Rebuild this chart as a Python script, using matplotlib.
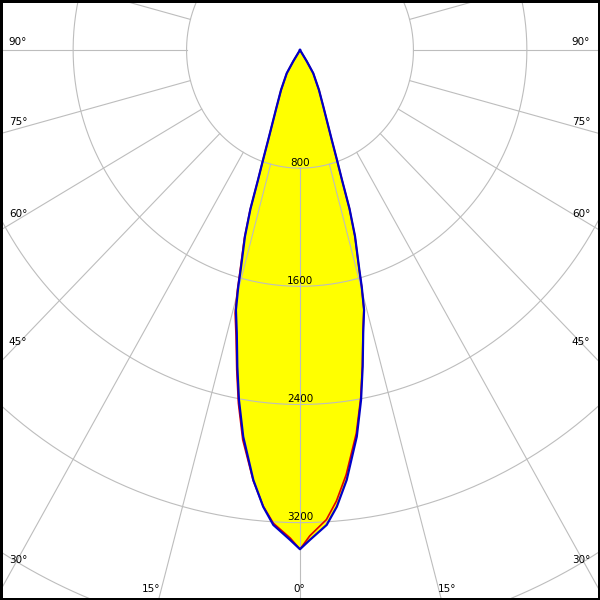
import numpy as np
import matplotlib
matplotlib.use("Agg")
import matplotlib.pyplot as plt
from matplotlib.patches import Rectangle

# luminous intensity (cd) against angle from nadir (deg)
angles = [0, 1.2, 3.35, 4.8, 6.45, 8.7, 10.3, 11.65, 13.1, 14.4, 15.2, 15.7,
          17.1, 18.0, 18.6, 19.3, 20.2, 23.2, 26.3, 30.7, 32, 33.5, 90]
c0_c180 = [3380, 3318, 3221, 3103, 2930, 2648, 2408, 2189, 1967, 1817, 1661, 1547,
           1320, 1130, 930, 790, 650, 418, 302, 183, 90, 0, 0]
c90 = [3370, 3290, 3185, 3065, 2895, 2625, 2395, 2180, 1960, 1812, 1656, 1542,
       1316, 1127, 928, 788, 648, 418, 302, 183, 90, 0, 0]
c270 = [3380, 3305, 3210, 3100, 2935, 2670, 2430, 2210, 1990, 1840, 1685, 1570,
        1335, 1140, 935, 792, 652, 418, 302, 183, 90, 0, 0]

rings = [800, 1600, 2400, 3200, 4000, 4800]
ring_labels = ["800", "1600", "2400", "3200"]
spokes = np.arange(0, 360, 15)

side_labels = ["90°", "75°", "60°", "45°", "30°"]
side_label_y = [42, 122, 214, 342, 560]
bottom_labels = ["15°", "0°", "15°"]
bottom_label_x = [151, 299, 447]

W, H = 600, 600
cx, cy = 300, 50          # pole position in pixels from top-left
sy = 0.1477               # px per cd vertically
sx = sy * 0.96            # px per cd horizontally
rmax = 4800

fig = plt.figure(figsize=(6, 6), dpi=100, facecolor="white")
rx, ry = rmax * sx, rmax * sy
ax = fig.add_axes([(cx - rx) / W, (H - cy - ry) / H, 2 * rx / W, 2 * ry / H],
                  projection="polar")
ax.set_aspect("auto")
ax.set_theta_zero_location("S")
ax.set_rlim(0, rmax)
ax.set_xticks([])
ax.set_yticks([])
ax.grid(False)
ax.spines["polar"].set_visible(False)


def mirror(vals_left, vals_right):
    a = np.radians(angles)
    th = np.concatenate([-a[::-1], a[1:]])
    r = np.concatenate([np.array(vals_left)[::-1], np.array(vals_right)[1:]])
    return th, r


th_b, r_b = mirror(c0_c180, c0_c180)
th_r, r_r = mirror(c270, c90)

ax.fill(th_b, r_b, color="#ffff00", zorder=1, lw=0)

# grid
gcol = "#bdbdbd"
t = np.linspace(0, 2 * np.pi, 721)
for r in rings:
    ax.plot(t, np.full_like(t, r), color=gcol, lw=0.8, zorder=2)
for s in spokes:
    ax.plot([np.radians(s)] * 2, [rings[0], rmax], color=gcol, lw=0.8, zorder=2)

ax.plot(th_r, r_r, color="#e00000", lw=1.2, zorder=3)
ax.plot(th_b, r_b, color="#0000c8", lw=1.6, zorder=4)

for r, lab in zip(rings, ring_labels):
    ax.annotate(lab, xy=(0, r), xytext=(0, 0.3), textcoords="offset points",
                ha="center", va="bottom", fontsize=7.5, color="black", zorder=5)

for lab, y in zip(side_labels, side_label_y):
    fig.text(18 / W, 1 - y / H, lab, ha="center", va="center", fontsize=7.5)
    fig.text(581 / W, 1 - y / H, lab, ha="center", va="center", fontsize=7.5)
for lab, x in zip(bottom_labels, bottom_label_x):
    fig.text(x / W, 1 - 589 / H, lab, ha="center", va="center", fontsize=7.5)

fig.add_artist(Rectangle((0, 0), 1, 1, transform=fig.transFigure, fill=False,
                         edgecolor="black", lw=3.6))

fig.savefig("out.png", dpi=100)
